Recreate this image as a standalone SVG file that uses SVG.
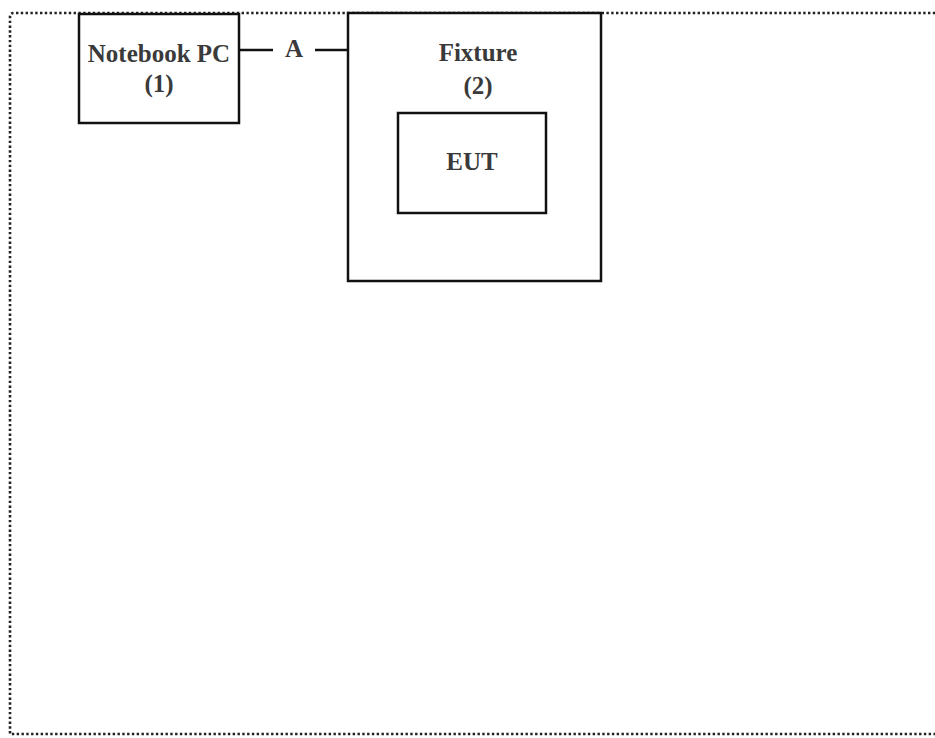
<svg xmlns="http://www.w3.org/2000/svg" width="935" height="738" viewBox="0 0 935 738">
<style>
.box{fill:#fff;stroke:#111;stroke-width:2.5}
.lbl{font-family:"Liberation Serif",serif;font-weight:bold;font-size:25px;fill:#3a3a3a;text-anchor:middle}
.wire{stroke:#111;stroke-width:2.5;fill:none}
</style>
<rect x="0" y="0" width="935" height="738" fill="#fff"/>
<path d="M940 13 H14 Q10 13 10 17 V734 H940" fill="none" stroke="#222" stroke-width="2.6" stroke-dasharray="2.4 2.4"/>
<g id="connectors">
<line class="wire" x1="239" y1="50" x2="273" y2="50"/>
<line class="wire" x1="315" y1="50" x2="348" y2="50"/>
<text class="lbl" x="294" y="57">A</text>
</g>
<g id="notebook">
<rect class="box" x="79" y="14" width="160" height="109"/>
<text class="lbl" x="159" y="62">Notebook PC</text>
<text class="lbl" x="159" y="92">(1)</text>
</g>
<g id="fixture">
<rect class="box" x="348" y="13" width="253" height="268"/>
<text class="lbl" x="478" y="61">Fixture</text>
<text class="lbl" x="478" y="94">(2)</text>
</g>
<g id="eut">
<rect class="box" x="398" y="113" width="148" height="100"/>
<text class="lbl" x="472" y="170">EUT</text>
</g>
</svg>
